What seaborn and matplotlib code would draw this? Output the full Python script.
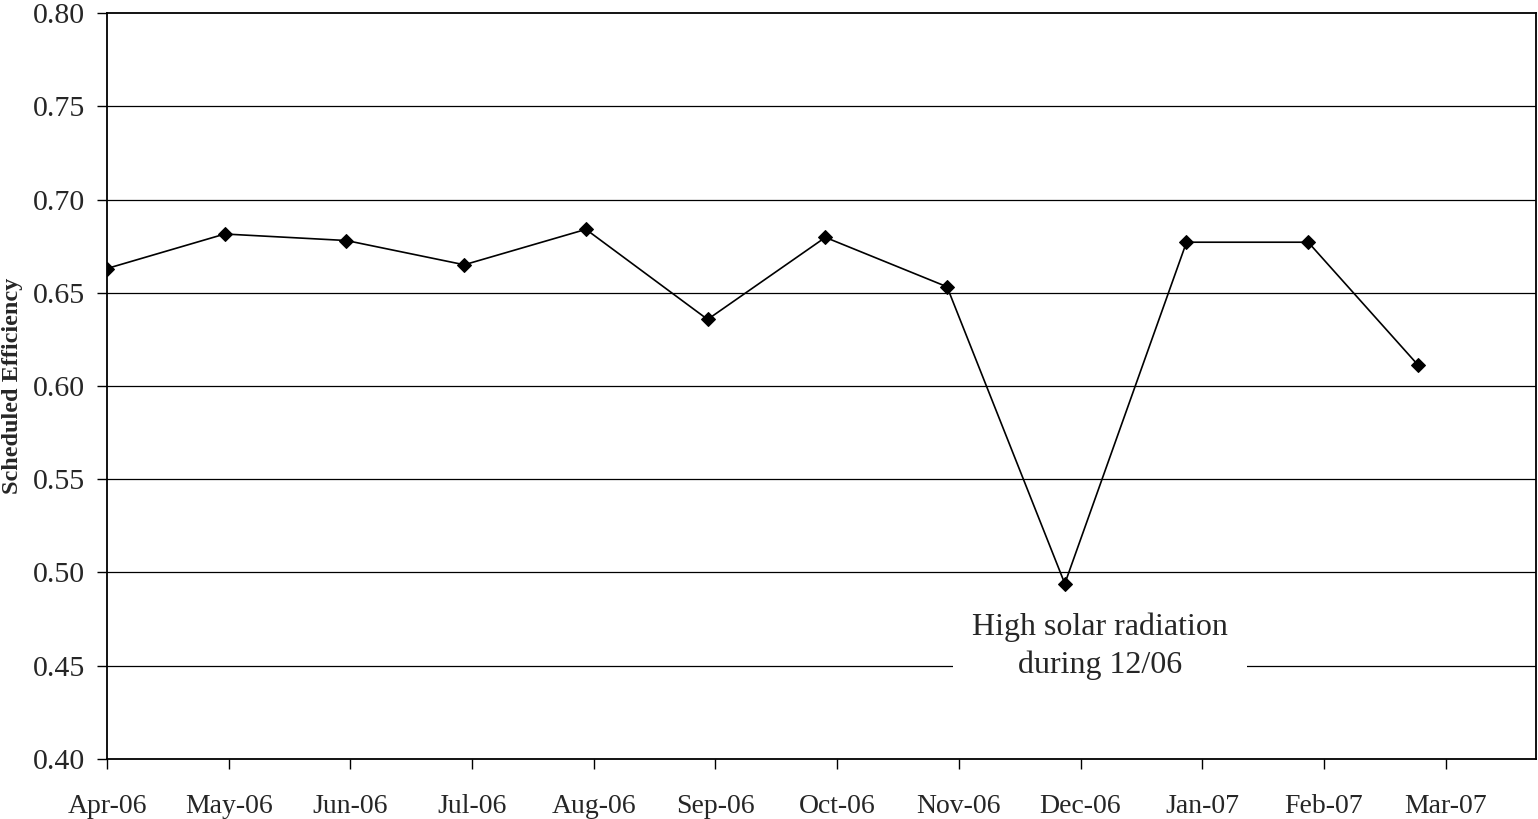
import numpy as np
import matplotlib
matplotlib.use("Agg")
import matplotlib.pyplot as plt
import matplotlib.dates as mdates
import pandas as pd
import seaborn as sns

# Monthly scheduled efficiency, Apr 2006 - Mar 2007
months = ['2006-04-01', '2006-05-01', '2006-06-01', '2006-07-01', '2006-08-01', '2006-09-01',
          '2006-10-01', '2006-11-01', '2006-12-01', '2007-01-01', '2007-02-01', '2007-03-01']
efficiency = [0.663, 0.6815, 0.678, 0.665, 0.684, 0.6357,
              0.6797, 0.6532, 0.494, 0.6771, 0.6771, 0.6112]

# axis settings (excel date axis, major unit 31 days)
x_start = '2006-04-01'
x_end = '2007-03-31'
tick_step_days = 31
n_ticks = 12
y_ticks = [0.40, 0.45, 0.50, 0.55, 0.60, 0.65, 0.70, 0.75, 0.80]

note_text = 'High solar radiation\nduring 12/06'
note_date = '2006-12-10'
note_y = 0.4605

df = pd.DataFrame({'Month': pd.to_datetime(months), 'Efficiency': efficiency})

sns.set_style('white')
plt.rcParams['font.family'] = ['Liberation Serif', 'DejaVu Serif']

fig = plt.figure(figsize=(15.38, 8.19), dpi=100)
ax = fig.add_axes([0.0696, 0.0733, 0.9290, 0.9108])

# gridlines first so the line sits over them
for yv in y_ticks[1:-1]:
    ax.axhline(yv, color='black', lw=0.9, zorder=1)

sns.lineplot(data=df, x='Month', y='Efficiency', color='black', lw=1.2,
             marker='D', markersize=7.5, markeredgecolor='black', ax=ax, zorder=3)

ax.set_xlim(pd.Timestamp(x_start), pd.Timestamp(x_end))
ax.set_ylim(y_ticks[0], y_ticks[-1])

tick_dates = pd.date_range(x_start, periods=n_ticks, freq=f'{tick_step_days}D')
ax.set_xticks(tick_dates)
ax.xaxis.set_major_formatter(mdates.DateFormatter('%b-%y'))
ax.set_yticks(y_ticks)
ax.set_yticklabels([f'{v:.2f}' for v in y_ticks])

ax.tick_params(axis='x', direction='out', length=7, width=1, color='black',
               labelsize=20, pad=18, bottom=True)
ax.tick_params(axis='y', direction='out', length=7, width=1, color='black',
               labelsize=21.5, pad=9, left=True)

ax.set_xlabel('')
ax.set_ylabel('Scheduled Efficiency', fontsize=17.5, fontweight='bold')
ax.yaxis.set_label_coords(-0.0585, 0.5)

for side in ['left', 'right', 'top', 'bottom']:
    ax.spines[side].set_visible(True)
    ax.spines[side].set_color('black')
    ax.spines[side].set_linewidth(1.3)

ax.text(pd.Timestamp(note_date), note_y, note_text, ha='center', va='center',
        fontsize=23, linespacing=1.35, zorder=2,
        bbox=dict(boxstyle='square,pad=0.6', fc='white', ec='none'))

fig.savefig('out.png', dpi=100)
